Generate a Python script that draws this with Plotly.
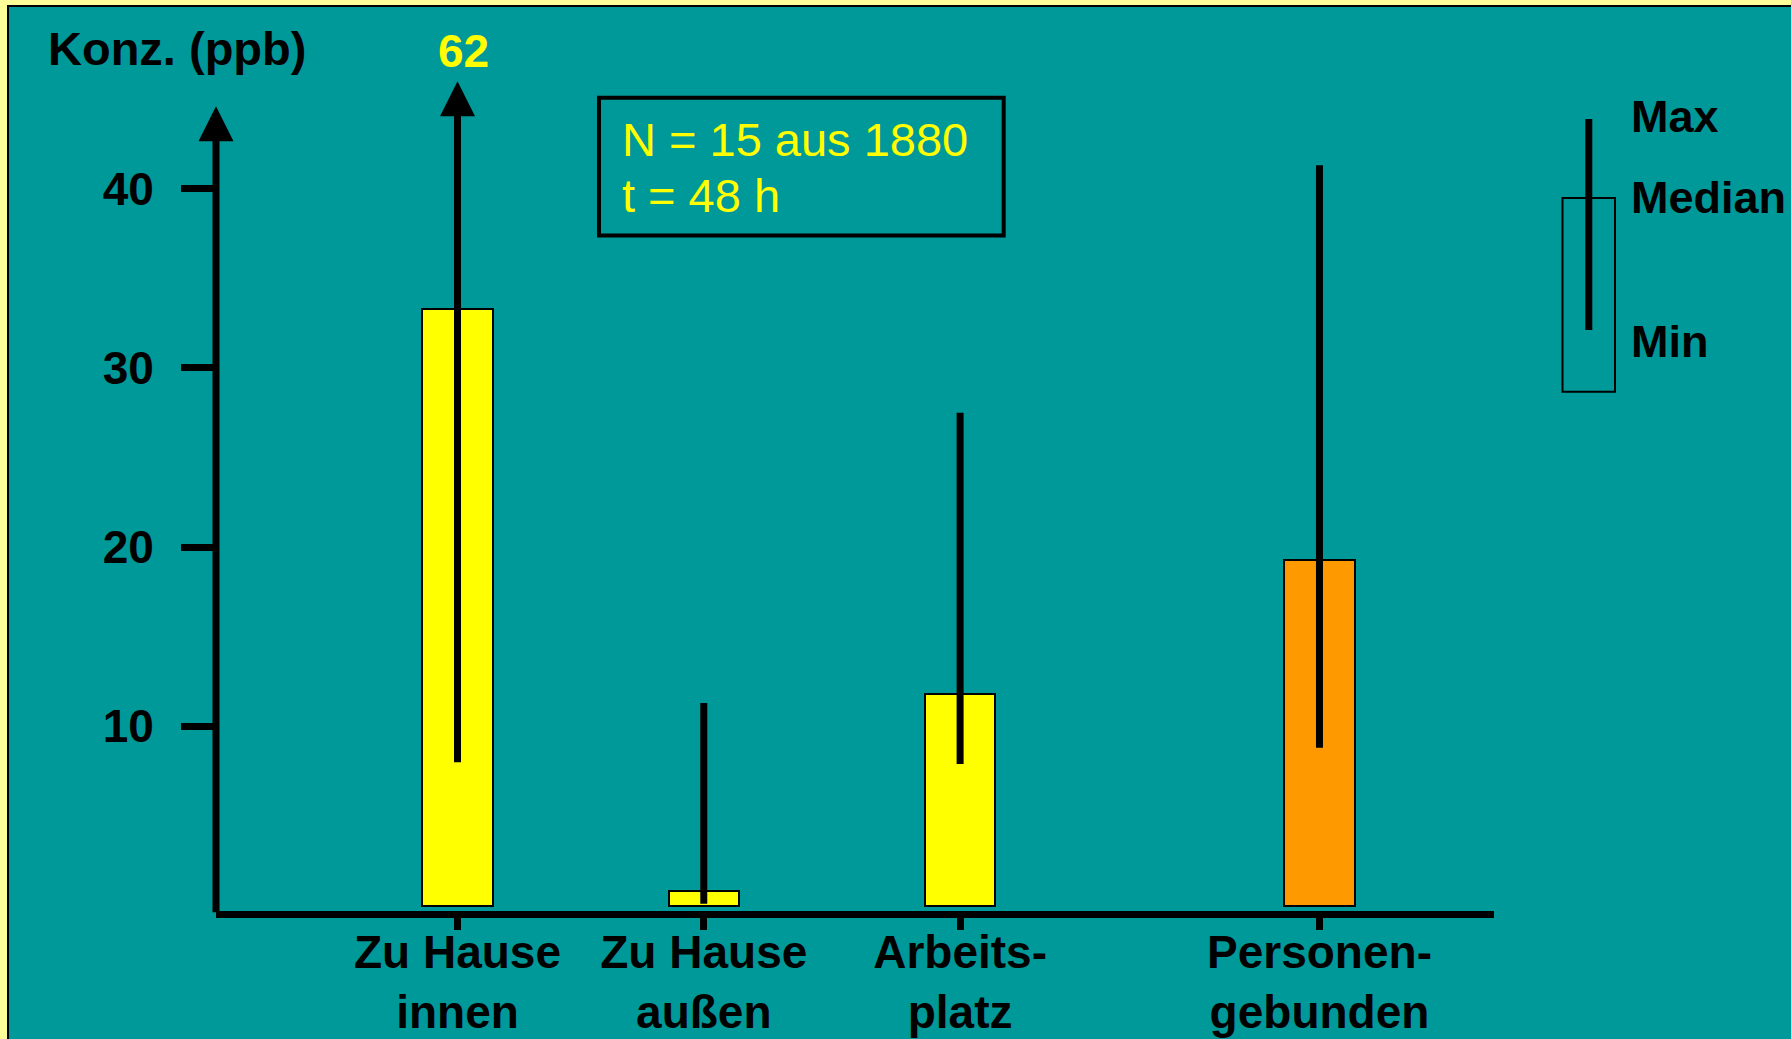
import plotly.graph_objects as go

# ---------------- data ----------------
categories = ["Zu Hause<br>innen", "Zu Hause<br>außen", "Arbeits-<br>platz", "Personen-<br>gebunden"]
median_ppb = [33.3, 0.8, 11.8, 19.3]
min_ppb = [8.0, 0.1, 7.9, 8.8]
max_ppb = [62, 11.3, 27.5, 41.3]
y_ticks = [10, 20, 30, 40]
bar_colors = ["#FFFF00", "#FFFF00", "#FFFF00", "#FF9900"]
info_lines = ["N = 15 aus 1880", "t = 48 h"]
legend_labels = ["Max", "Median", "Min"]
y_title = "Konz. (ppb)"

# ---------------- layout constants ----------------
x_pos = [1, 1.98, 3, 4.43]          # category positions on the x axis
W, H = 1791, 1039
ML, MR, MT, MB = 216, 297, 72, 128
PW, PH = W - ML - MR, H - MT - MB
X_RANGE = [0.039, 5.1245]
Y_RANGE = [-0.307, 46.51]
Y_AXIS_TIP = 44.6                    # where the y-axis arrow ends
Y_DISPLAY_TOP = 46.0                 # off-scale whiskers are cut here

TEAL = "#009999"
FRAME = "#FFFF99"
FONT = "Liberation Sans, Arial, sans-serif"


def fx(px):
    return (px - ML) / PW


def fy(py):
    return (H - MB - py) / PH


fig = go.Figure()

# bars = median
fig.add_trace(go.Bar(
    x=x_pos, y=median_ppb, width=0.279,
    marker=dict(color=bar_colors, line=dict(color="black", width=2)),
    hoverinfo="skip", showlegend=False,
))

# whiskers min..max
wx, wy = [], []
for p, lo, hi in zip(x_pos, min_ppb, max_ppb):
    wx += [p, p, None]
    wy += [lo, min(hi, Y_DISPLAY_TOP - 1), None]
fig.add_trace(go.Scatter(
    x=wx, y=wy, mode="lines",
    line=dict(color="black", width=7),
    hoverinfo="skip", showlegend=False,
))

annotations = []
# y axis line with arrow
annotations.append(dict(
    x=X_RANGE[0], y=Y_AXIS_TIP, xref="x", yref="y",
    ax=X_RANGE[0], ay=Y_RANGE[0] - 0.15, axref="x", ayref="y",
    text="", showarrow=True, arrowhead=2, arrowsize=1, arrowwidth=7,
    arrowcolor="black",
))
# off-scale whiskers: arrow + value label
for p, hi in zip(x_pos, max_ppb):
    if hi > Y_DISPLAY_TOP:
        annotations.append(dict(
            x=p, y=Y_DISPLAY_TOP, xref="x", yref="y",
            ax=p, ay=Y_DISPLAY_TOP - 6, axref="x", ayref="y",
            text="", showarrow=True, arrowhead=2, arrowsize=1, arrowwidth=7,
            arrowcolor="black",
        ))
        annotations.append(dict(
            x=p, y=fy(51), xref="x", yref="paper", xshift=6,
            text=f"{hi:g}", showarrow=False, xanchor="center", yanchor="middle",
            font=dict(family=FONT, size=46, color="#FFFF00", weight="bold"),
        ))

# y title
annotations.append(dict(
    x=fx(46), y=fy(49), xref="paper", yref="paper",
    text=y_title, showarrow=False, xanchor="left", yanchor="middle",
    font=dict(family=FONT, size=47, color="black", weight="bold"),
))

# info box text
for txt, cy in zip(info_lines, [139.7, 195.4]):
    annotations.append(dict(
        x=fx(620), y=fy(cy), xref="paper", yref="paper",
        text=txt, showarrow=False, xanchor="left", yanchor="middle",
        font=dict(family=FONT, size=47, color="#FFFF00"),
    ))

# legend labels
for txt, cy in zip(legend_labels, [117, 197, 341]):
    annotations.append(dict(
        x=fx(1629), y=fy(cy), xref="paper", yref="paper",
        text=txt, showarrow=False, xanchor="left", yanchor="middle",
        font=dict(family=FONT, size=45, color="black", weight="bold"),
    ))

shapes = [
    # teal panel with thin black frame
    dict(type="rect", xref="paper", yref="paper", layer="below",
         x0=fx(8), x1=fx(1830), y0=fy(6), y1=fy(1080),
         fillcolor=TEAL, line=dict(color="black", width=2)),
    # info box
    dict(type="rect", xref="paper", yref="paper",
         x0=fx(599), x1=fx(1003.7), y0=fy(97.7), y1=fy(235.5),
         line=dict(color="black", width=4)),
    # legend box
    dict(type="rect", xref="paper", yref="paper",
         x0=fx(1562.5), x1=fx(1615), y0=fy(198), y1=fy(391.7),
         line=dict(color="black", width=2)),
    # legend whisker
    dict(type="line", xref="paper", yref="paper",
         x0=fx(1588.8), x1=fx(1588.8), y0=fy(119), y1=fy(330),
         line=dict(color="black", width=7)),
]

fig.update_layout(
    width=W, height=H,
    margin=dict(l=ML, r=MR, t=MT, b=MB, pad=0, autoexpand=False),
    paper_bgcolor=FRAME,
    plot_bgcolor="rgba(0,0,0,0)",
    showlegend=False,
    bargap=0,
    annotations=annotations,
    shapes=shapes,
    xaxis=dict(
        range=X_RANGE, showgrid=False, zeroline=False, automargin=False,
        showline=True, linewidth=7, linecolor="black",
        ticks="outside", ticklen=12, tickwidth=7, tickcolor="black",
        tickvals=x_pos, ticktext=categories, ticklabelstandoff=-17,
        tickfont=dict(family=FONT, size=46, color="black", weight="bold"),
    ),
    yaxis=dict(
        range=Y_RANGE, showgrid=False, zeroline=False, showline=False,
        automargin=False,
        ticks="outside", ticklen=34, tickwidth=7, tickcolor="black",
        tickvals=y_ticks, ticktext=[str(v) for v in y_ticks],
        ticklabelstandoff=18,
        tickfont=dict(family=FONT, size=46, color="black", weight="bold"),
    ),
)

fig.write_html(
    "out.html",
    config={"displayModeBar": False},
    post_script="document.body.style.margin='0px';",
)
